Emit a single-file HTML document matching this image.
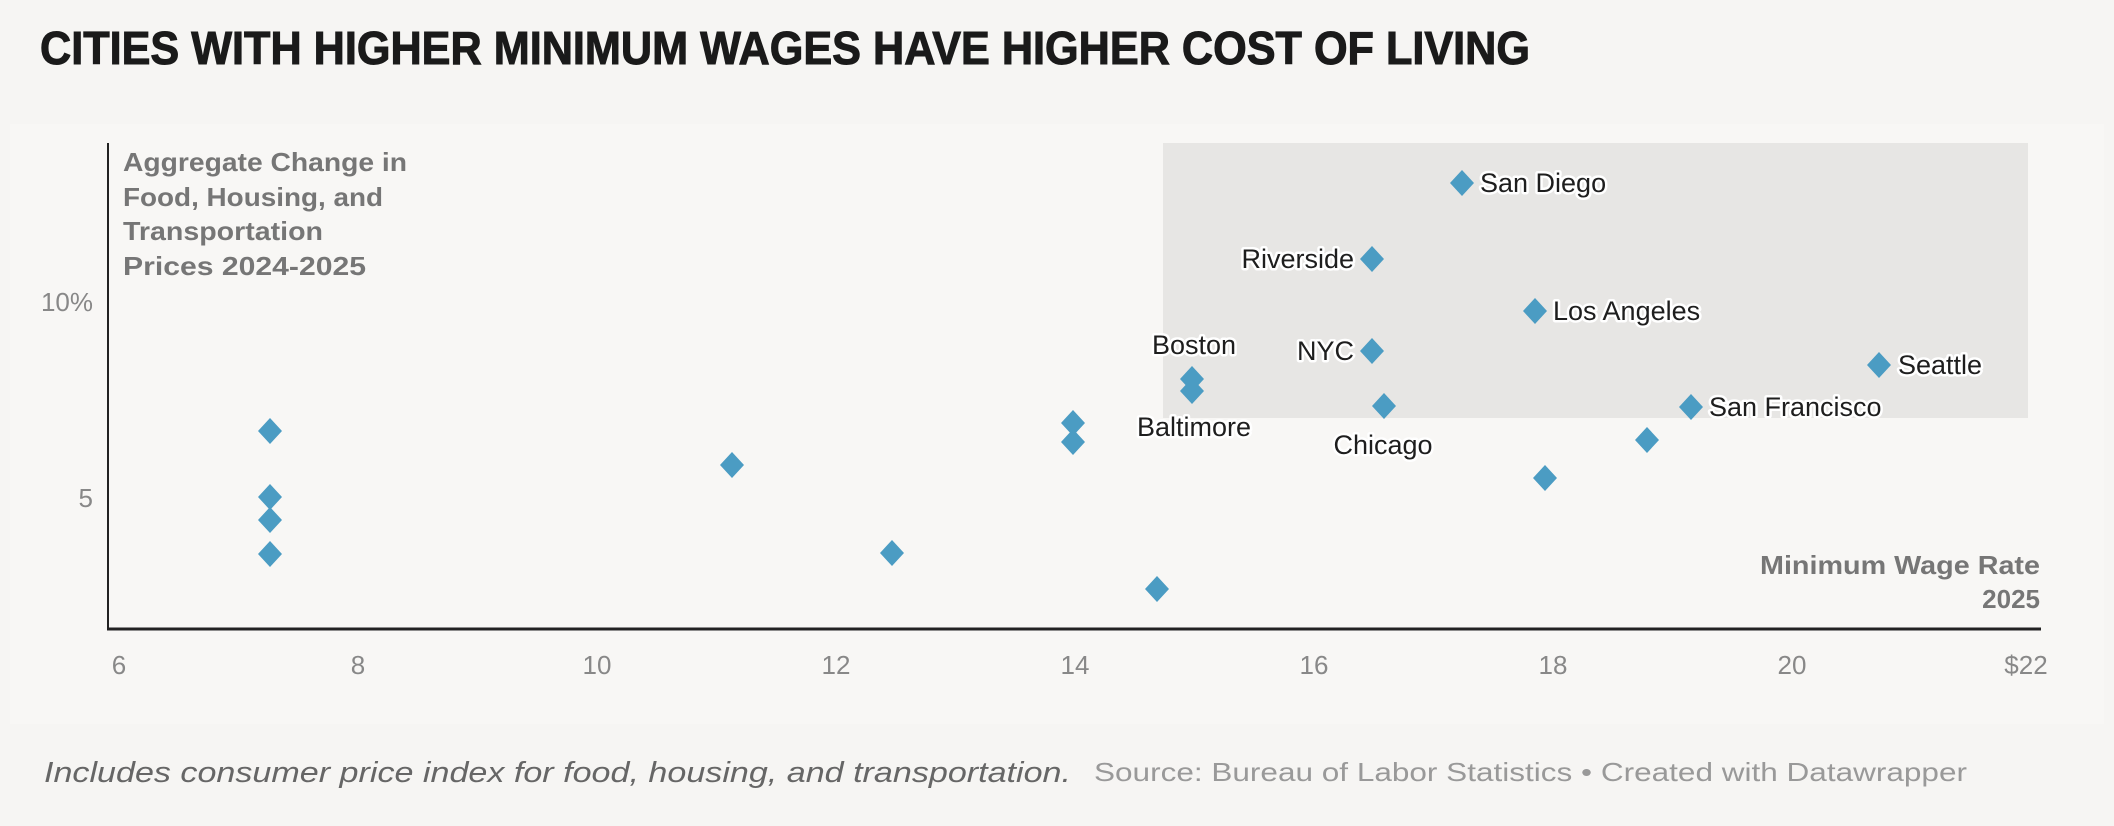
<!DOCTYPE html>
<html><head><meta charset="utf-8"><style>
html,body{margin:0;padding:0;background:#f6f5f3;}
svg{display:block;font-family:"Liberation Sans",sans-serif;}
</style></head><body>
<svg width="2114" height="826" viewBox="0 0 2114 826" xmlns="http://www.w3.org/2000/svg">
<rect x="0" y="0" width="2114" height="826" fill="#f6f5f3"/>
<rect x="10" y="124" width="2094" height="600" fill="#f8f7f5"/>
<text x="40" y="64" font-size="46" font-weight="bold" fill="#1a1a1a" stroke="#1a1a1a" stroke-width="1" textLength="1490" lengthAdjust="spacingAndGlyphs">CITIES WITH HIGHER MINIMUM WAGES HAVE HIGHER COST OF LIVING</text>
<rect x="1163" y="143" width="865" height="275" fill="#e7e6e4"/>
<line x1="108" y1="143" x2="108" y2="630" stroke="#222" stroke-width="2"/>
<line x1="107" y1="629" x2="2041" y2="629" stroke="#222" stroke-width="3"/>
<g font-size="26" font-weight="bold" fill="#767676" lengthAdjust="spacingAndGlyphs">
<text x="123" y="171" textLength="284" lengthAdjust="spacingAndGlyphs">Aggregate Change in</text>
<text x="123" y="206" textLength="260" lengthAdjust="spacingAndGlyphs">Food, Housing, and</text>
<text x="123" y="240" textLength="200" lengthAdjust="spacingAndGlyphs">Transportation</text>
<text x="123" y="275" textLength="243" lengthAdjust="spacingAndGlyphs">Prices 2024-2025</text>
<text x="2040" y="574" text-anchor="end" textLength="280" lengthAdjust="spacingAndGlyphs">Minimum Wage Rate</text>
<text x="2040" y="608" text-anchor="end">2025</text>
</g>
<g font-size="26" fill="#888">
<text x="93" y="311" text-anchor="end">10%</text>
<text x="93" y="507" text-anchor="end">5</text>
<g text-anchor="middle">
<text x="119" y="674">6</text><text x="358" y="674">8</text><text x="597" y="674">10</text>
<text x="836" y="674">12</text><text x="1075" y="674">14</text><text x="1314" y="674">16</text>
<text x="1553" y="674">18</text><text x="1792" y="674">20</text><text x="2026" y="674">$22</text>
</g></g>
<g fill="#4b9cc3">
<path d="M0,-13 L12,0 L0,13 L-12,0Z" transform="translate(270,431)"/>
<path d="M0,-13 L12,0 L0,13 L-12,0Z" transform="translate(270,497)"/>
<path d="M0,-13 L12,0 L0,13 L-12,0Z" transform="translate(270,520)"/>
<path d="M0,-13 L12,0 L0,13 L-12,0Z" transform="translate(270,554)"/>
<path d="M0,-13 L12,0 L0,13 L-12,0Z" transform="translate(732,465)"/>
<path d="M0,-13 L12,0 L0,13 L-12,0Z" transform="translate(892,553)"/>
<path d="M0,-13 L12,0 L0,13 L-12,0Z" transform="translate(1073,423)"/>
<path d="M0,-13 L12,0 L0,13 L-12,0Z" transform="translate(1073,442)"/>
<path d="M0,-13 L12,0 L0,13 L-12,0Z" transform="translate(1157,589)"/>
<path d="M0,-13 L12,0 L0,13 L-12,0Z" transform="translate(1192,379)"/>
<path d="M0,-13 L12,0 L0,13 L-12,0Z" transform="translate(1192,391)"/>
<path d="M0,-13 L12,0 L0,13 L-12,0Z" transform="translate(1384,406)"/>
<path d="M0,-13 L12,0 L0,13 L-12,0Z" transform="translate(1372,351)"/>
<path d="M0,-13 L12,0 L0,13 L-12,0Z" transform="translate(1372,259)"/>
<path d="M0,-13 L12,0 L0,13 L-12,0Z" transform="translate(1462,183)"/>
<path d="M0,-13 L12,0 L0,13 L-12,0Z" transform="translate(1535,311)"/>
<path d="M0,-13 L12,0 L0,13 L-12,0Z" transform="translate(1545,478)"/>
<path d="M0,-13 L12,0 L0,13 L-12,0Z" transform="translate(1647,440)"/>
<path d="M0,-13 L12,0 L0,13 L-12,0Z" transform="translate(1691,407)"/>
<path d="M0,-13 L12,0 L0,13 L-12,0Z" transform="translate(1879,365)"/>
</g>
<g font-size="27" fill="#1e1e1e" stroke="#fff" stroke-width="5" paint-order="stroke" stroke-linejoin="round" dominant-baseline="central">
<text x="1480" y="183">San Diego</text>
<text x="1354" y="259" text-anchor="end">Riverside</text>
<text x="1553" y="311">Los Angeles</text>
<text x="1354" y="351" text-anchor="end">NYC</text>
<text x="1194" y="345" text-anchor="middle">Boston</text>
<text x="1194" y="427" text-anchor="middle">Baltimore</text>
<text x="1383" y="445" text-anchor="middle">Chicago</text>
<text x="1898" y="365">Seattle</text>
<text x="1709" y="407">San Francisco</text>
</g>
<text x="44" y="782" font-size="29" font-style="italic" fill="#666" textLength="1027" lengthAdjust="spacingAndGlyphs">Includes consumer price index for food, housing, and transportation.</text>
<text x="1094" y="781" font-size="26" fill="#999" textLength="873" lengthAdjust="spacingAndGlyphs">Source: Bureau of Labor Statistics • Created with Datawrapper</text>
</svg>
</body></html>
